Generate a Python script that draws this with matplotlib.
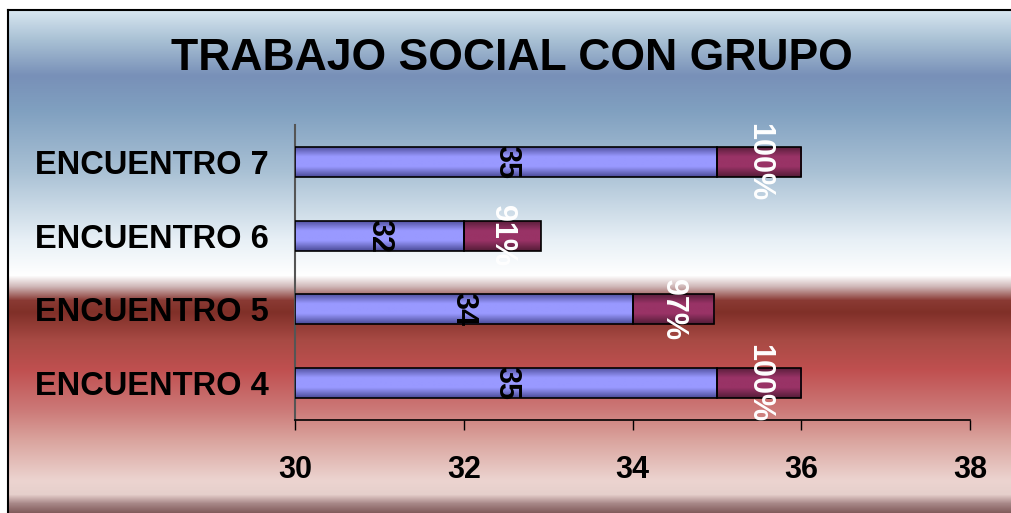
import numpy as np
import matplotlib
matplotlib.use('Agg')
from matplotlib import pyplot as plt
from matplotlib.colors import LinearSegmentedColormap, to_rgb

# data
categories = ['ENCUENTRO 4', 'ENCUENTRO 5', 'ENCUENTRO 6', 'ENCUENTRO 7']
asistentes = [35, 34, 32, 35]
porcentaje = [1.00, 0.97, 0.91, 1.00]
pct_labels = ['100%', '97%', '91%', '100%']
xticks = [30, 32, 34, 36, 38]

W, H = 1011, 513
fig = plt.figure(figsize=(W / 100, H / 100), dpi=100)
fig.patch.set_facecolor('white')

# background gradient (pixel rows -> colour)
stops = [(10, '#d8e6f0'), (40, '#a8c0d4'), (75, '#7890b8'), (110, '#80a0c0'),
         (170, '#a8c0d4'), (240, '#e8f0f6'), (275, '#ffffff'), (286, '#d0b8b8'),
         (300, '#8a3a34'), (312, '#803028'), (340, '#a84a44'), (370, '#c05050'),
         (410, '#cc7a78'), (440, '#daa49e'), (480, '#ecd4d0'), (494, '#e6d0cc'),
         (503, '#a88888'), (513, '#7e5858')]
rows = np.arange(10, 513)
cols = np.array([to_rgb(c) for _, c in stops])
ys = np.array([s for s, _ in stops])
grad = np.stack([np.interp(rows, ys, cols[:, k]) for k in range(3)], axis=1)
bg = fig.add_axes([8 / W, 0, 1 - 8 / W, 1 - 10 / H])
bg.imshow(grad[:, None, :], aspect='auto', extent=[0, 1, 0, 1])
bg.set_xticks([]); bg.set_yticks([])
for s in ['right', 'bottom']:
    bg.spines[s].set_visible(False)
bg.spines['left'].set_linewidth(1.5)
bg.spines['top'].set_linewidth(1.5)

fig.text(512 / W, 1 - 59 / H, 'TRABAJO SOCIAL CON GRUPO', ha='center', va='center',
         fontsize=32, fontweight='bold', family='Liberation Sans')

ax = fig.add_axes([295 / W, 1 - 420 / H, (970 - 295) / W, (420 - 125) / H])
ax.patch.set_visible(False)
y = np.arange(len(categories))
base = 30
h = 0.41
b1 = ax.barh(y, np.array(asistentes) - base, left=base, height=h,
             color='#9999ff', edgecolor='black', linewidth=1.2, zorder=3)
b2 = ax.barh(y, porcentaje, left=asistentes, height=h,
             color='#993366', edgecolor='black', linewidth=1.2, zorder=3)

def shade(bars, light, dark):
    cm = LinearSegmentedColormap.from_list('s', [dark, light, light, dark])
    g = np.linspace(0, 1, 50)[:, None]
    for p in bars:
        x0, y0 = p.get_x(), p.get_y()
        im = ax.imshow(g, cmap=cm, aspect='auto', zorder=3.5,
                       extent=[x0, x0 + p.get_width(), y0, y0 + p.get_height()])
        im.set_clip_path(p)

shade(b1, '#9999ff', '#4c4c99')
shade(b2, '#993366', '#551d38')
for p in list(b1) + list(b2):
    p.set_facecolor('none')
    p.set_zorder(4)

for p, v in zip(b1, asistentes):
    ax.text(p.get_x() + p.get_width() / 2, p.get_y() + p.get_height() / 2, str(v),
            rotation=270, ha='center', va='center', fontsize=22, fontweight='bold',
            family='Liberation Sans', color='black', zorder=5)
for p, t in zip(b2, pct_labels):
    ax.text(p.get_x() + p.get_width() / 2, p.get_y() + p.get_height() / 2, t,
            rotation=270, ha='center', va='center', fontsize=22, fontweight='bold',
            family='Liberation Sans', color='white', zorder=5)

ax.set_xlim(30, 38)
ax.set_ylim(-0.5, 3.5)
ax.set_xticks(xticks)
ax.set_xticklabels([str(t) for t in xticks], fontsize=22, fontweight='bold',
                   family='Liberation Sans')
ax.set_yticks(y)
ax.set_yticklabels(categories, fontsize=23.5, fontweight='bold', family='Liberation Sans')
ax.tick_params(axis='y', length=0, pad=19)
ax.tick_params(axis='x', length=7, width=1, direction='out', pad=18)
ax.spines['top'].set_visible(False)
ax.spines['right'].set_visible(False)
ax.spines['left'].set_color('#555555')
ax.spines['left'].set_linewidth(1.5)
ax.spines['bottom'].set_linewidth(1.2)

fig.savefig('out.png', dpi=100)
